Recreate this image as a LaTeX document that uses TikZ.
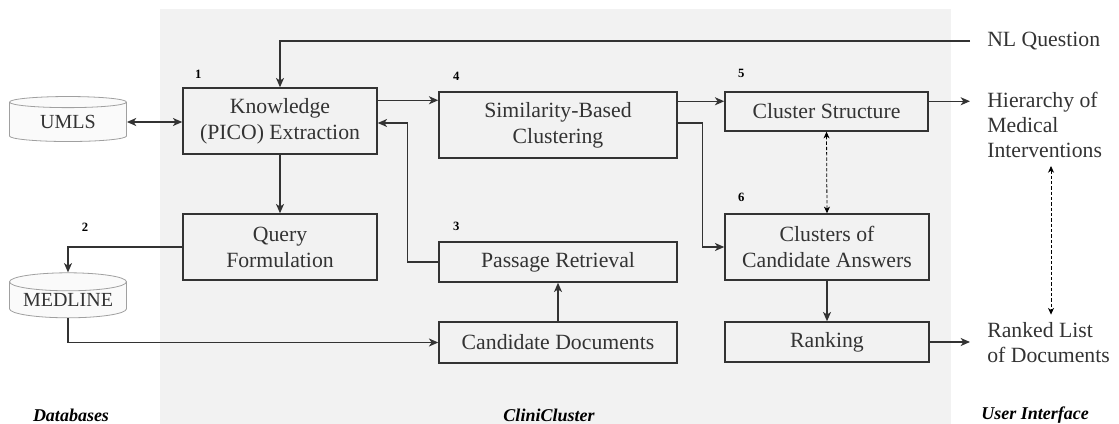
\documentclass[tikz,border=0pt]{standalone}
\usepackage{fontspec}
\setmainfont{Liberation Serif}
\usetikzlibrary{shapes.geometric, positioning, arrows.meta, calc}
\definecolor{PanelGray}{HTML}{F2F2F2}
\definecolor{InkGray}{HTML}{333333}
\definecolor{DbEdge}{HTML}{A0A0A0}
\definecolor{DbFill}{HTML}{FAFAFA}
\newcommand{\px}{0.75pt}

\tikzset{
  procbox/.style={draw=InkGray, line width=1.1pt, text=InkGray, align=center, inner sep=0pt,
    font=\fontsize{16.3}{19.5}\selectfont},
  dbnode/.style={cylinder, shape border rotate=90, shape aspect=0.2, draw=DbEdge, line width=0.6pt,
    cylinder uses custom fill, cylinder body fill=DbFill, cylinder end fill=DbFill,
    minimum width=117*\px, minimum height=45*\px, inner sep=0pt, text=InkGray,
    font=\fontsize{15}{18}\selectfont},
  uitext/.style={anchor=west, align=left, inner xsep=12.75pt, inner ysep=0pt, text=InkGray,
    font=\fontsize{16.3}{18.75}\selectfont},
  numlbl/.style={font=\fontsize{9.5}{11}\selectfont\bfseries, text=black, inner sep=0pt},
  paneltitle/.style={font=\fontsize{13.5}{16}\selectfont\bfseries\itshape, text=black, inner sep=0pt},
  flow/.style={draw=InkGray, line width=1.1pt, -{Stealth[length=7pt,width=6pt,inset=2pt]}},
  twoflow/.style={flow, {Stealth[length=7pt,width=6pt,inset=2pt]}-{Stealth[length=7pt,width=6pt,inset=2pt]}},
  dashflow/.style={draw=black, line width=0.6pt, dashed, dash pattern=on 2.5pt off 1.5pt,
    {Stealth[length=5pt,width=4.5pt,inset=1.5pt]}-{Stealth[length=5pt,width=4.5pt,inset=1.5pt]}}
}

\begin{document}
\begin{tikzpicture}[x=\px, y=-\px]
  \useasboundingbox (0,0) rectangle (1119,424);
  % CliniCluster panel
  \fill[PanelGray] (160,9) rectangle (951,424);

  % Databases
  \node[dbnode] (umls) at (68,122) {UMLS};
  \node[dbnode] (medline) at (68,300) {MEDLINE};

  % Processing steps
  \node[procbox, minimum width=194*\px, minimum height=66*\px] (know) at (280,121) {Knowledge\\(PICO) Extraction};
  \node[procbox, minimum width=194*\px, minimum height=66*\px] (query) at (280,247) {Query\\Formulation};
  \node[procbox, minimum width=238*\px, minimum height=66*\px] (simil) at (558,125) {Similarity-Based\\Clustering};
  \node[procbox, minimum width=238*\px, minimum height=40*\px] (passage) at (558,262) {Passage Retrieval};
  \node[procbox, minimum width=238*\px, minimum height=41*\px] (canddocs) at (558,342.5) {Candidate Documents};
  \node[procbox, minimum width=203*\px, minimum height=39*\px] (cstruct) at (826.5,111.5) {Cluster Structure};
  \node[procbox, minimum width=204*\px, minimum height=66*\px] (cans) at (827,247) {Clusters of\\Candidate Answers};
  \node[procbox, minimum width=204*\px, minimum height=40*\px] (rank) at (827,342) {Ranking};

  % Step numbers
  \node[numlbl] (n1) at ($(know.north west)+(16,-13)$) {1};
  \node[numlbl] (n2) at ($(medline.north)+(17,-45)$) {2};
  \node[numlbl] (n3) at ($(passage.north west)+(18,-15)$) {3};
  \node[numlbl] (n4) at ($(simil.north west)+(18,-15)$) {4};
  \node[numlbl] (n5) at ($(cstruct.north west)+(17,-18)$) {5};
  \node[numlbl] (n6) at ($(cans.north west)+(17,-16)$) {6};

  % User interface
  \node[uitext] (nlq) at (970,41) {NL Question};
  \node[uitext] (hier) at (970,125) {Hierarchy of\\Medical\\Interventions};
  \node[uitext] (rlist) at (970,343) {Ranked List\\of Documents};
  \coordinate (uiaxis) at (1051,0);

  % Column titles
  \node[paneltitle] (tdb) at (71,415) {Databases};
  \node[paneltitle] (tcc) at (549,415) {CliniCluster};
  \node[paneltitle] (tui) at (1035,415) {User Interface};

  % Exit points on the box sides
  \coordinate (knowout) at ($(know.north east)+(0,13)$);
  \coordinate (similout) at ($(simil.north east)+(0,10)$);
  \coordinate (cstructout) at ($(cstruct.north east)+(0,10)$);

  % Connectors
  \draw[flow] (nlq.west) -| (know.north);
  \draw[twoflow] (umls.east) -- (umls.east -| know.west);
  \draw[flow] (knowout) -- (knowout -| simil.west);
  \draw[flow] (passage.west) -- ++(-31,0) |- ($(know.east)+(0,2)$);
  \draw[flow] (know.south) -- (query.north);
  \draw[flow] (query.west) -| (medline.north);
  \draw[flow] (medline.south) |- (canddocs.west);
  \draw[flow] (canddocs.north) -- (passage.south);
  \draw[flow] (similout) -- (similout -| cstruct.west);
  \draw[flow] ($(simil.east)+(0,-2)$) -- ++(25,0) |- (cans.west);
  \draw[dashflow] (cstruct.south) -- (cans.north);
  \draw[flow] (cans.south) -- (rank.north);
  \draw[flow] (cstructout) -- (cstructout -| hier.west);
  \draw[flow] (rank.east) -- (rank.east -| rlist.west);
  \draw[dashflow, shorten <=6pt, shorten >=6pt] (hier.south -| uiaxis) -- (rlist.north -| uiaxis);
\end{tikzpicture}
\end{document}
